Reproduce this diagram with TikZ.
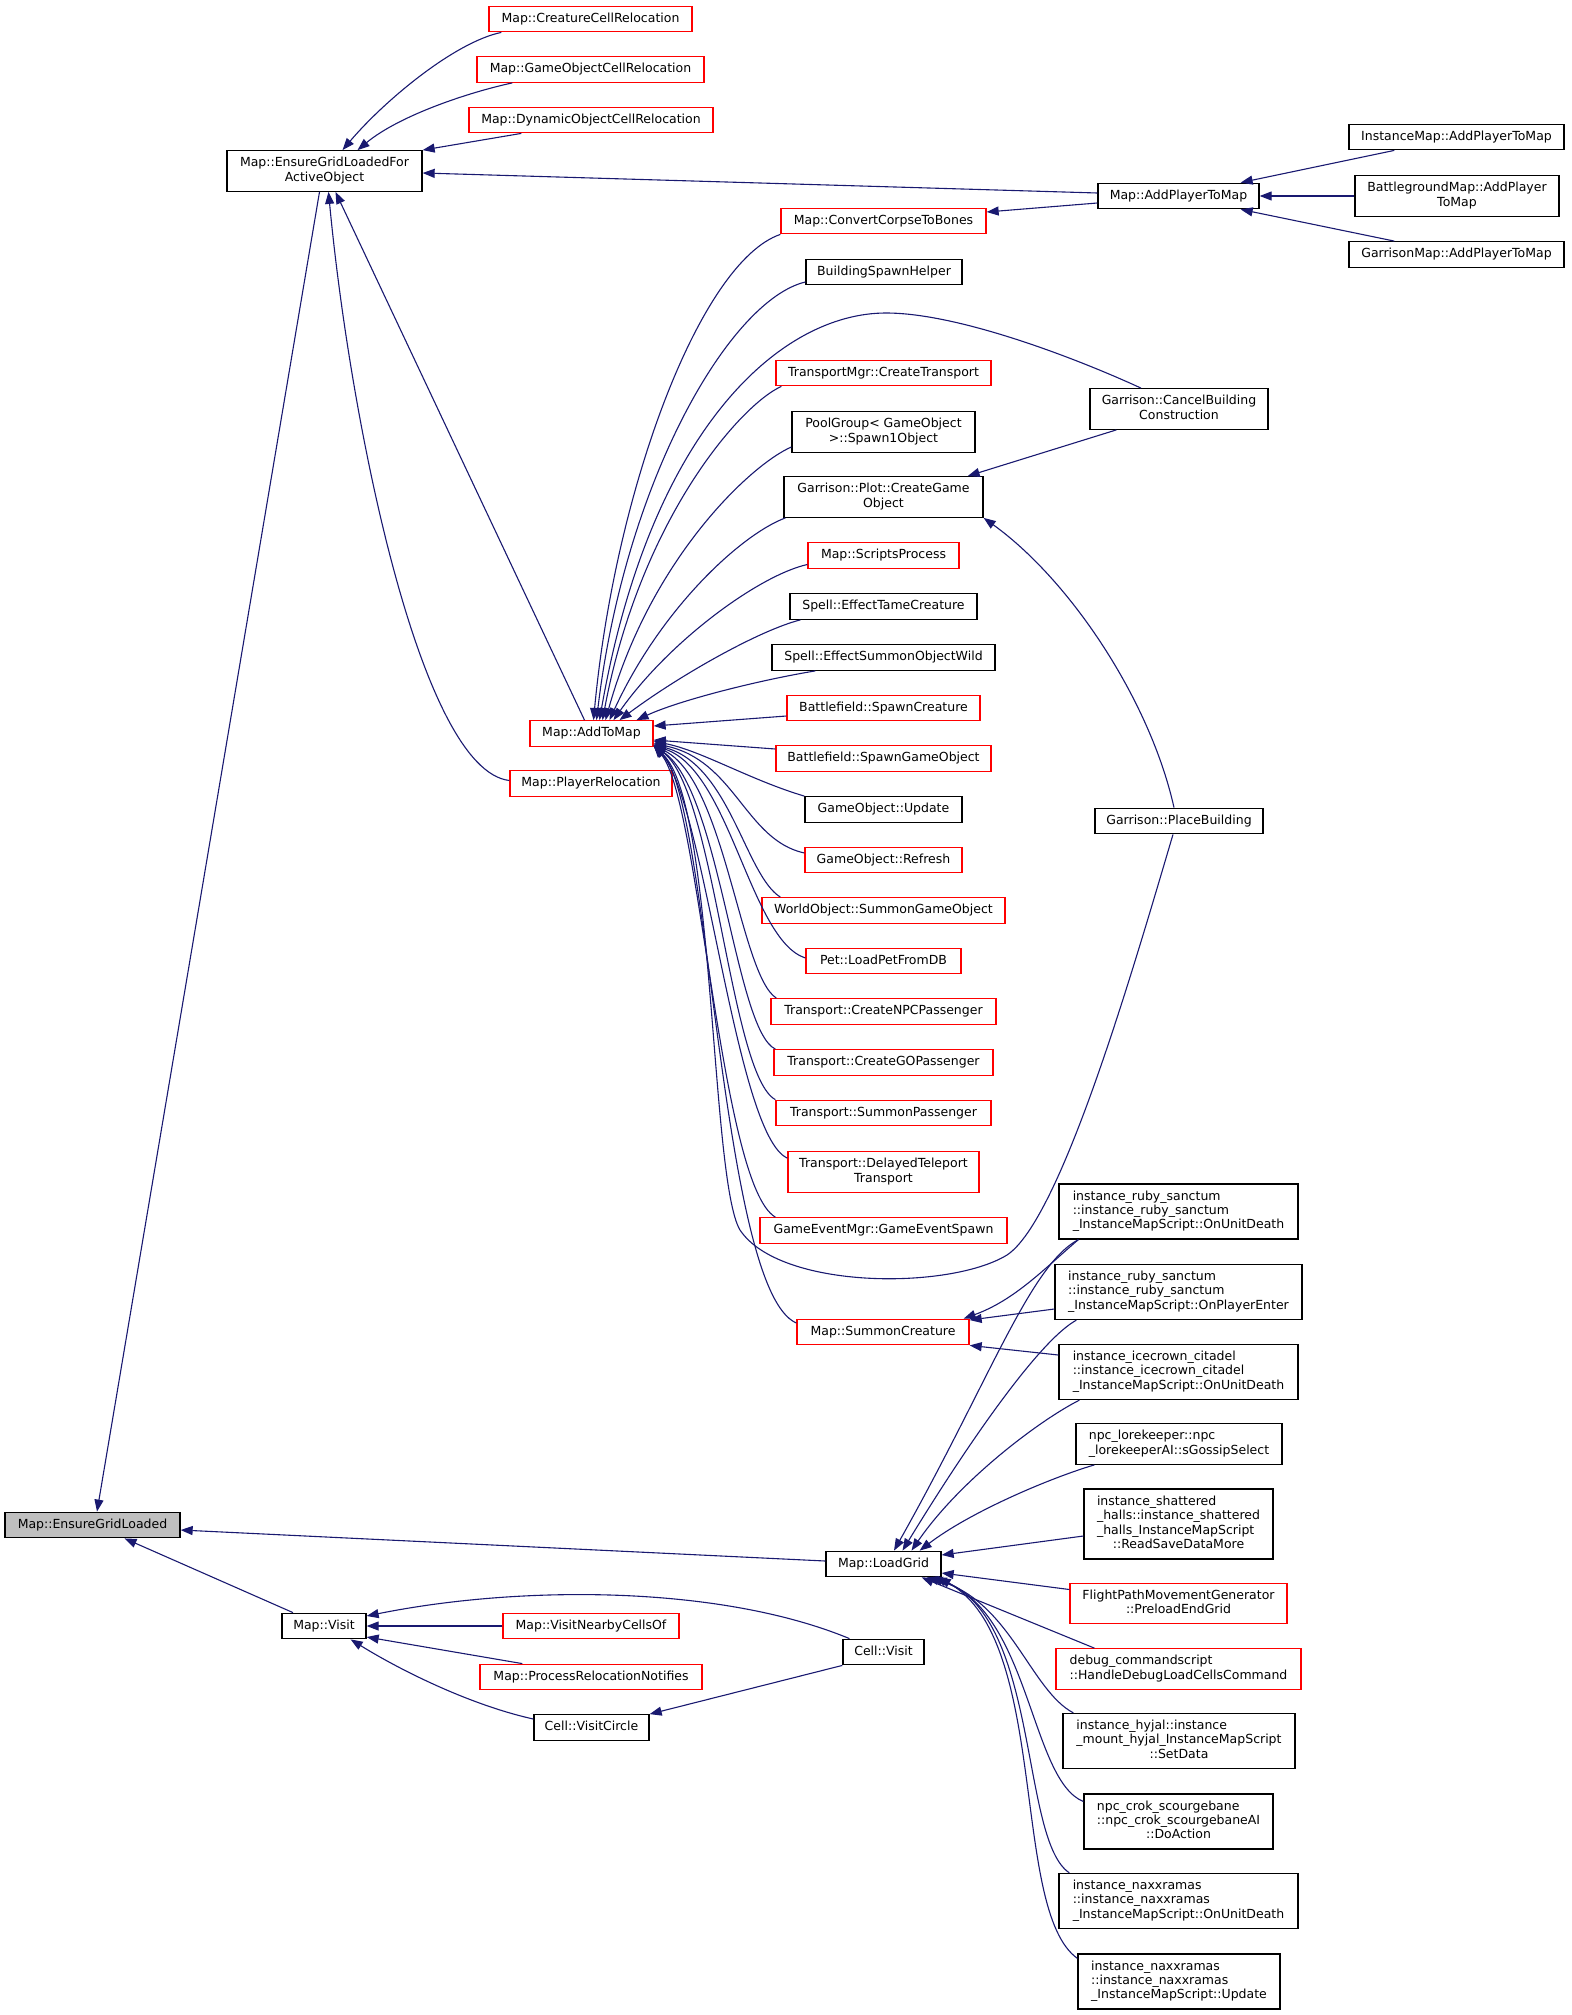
\documentclass[tikz,border=0pt]{standalone}
\usepackage{fontspec}
\setmainfont{DejaVu Sans}
\usetikzlibrary{arrows.meta}
\definecolor{edgeblue}{HTML}{191970}
\definecolor{linkred}{HTML}{FF0000}
\definecolor{curgray}{HTML}{BFBFBF}
\newcommand{\lline}[1]{\multicolumn{1}{@{}l@{}}{#1}}
\newcommand{\lab}[1]{\begin{tabular}{@{}c@{}}#1\end{tabular}}
\begin{document}
\begin{tikzpicture}[x=1pt,y=1pt,
  fn/.style={draw=black,line width=1.3pt,fill=white,inner sep=0pt,
    font=\fontsize{12.5}{14.3}\selectfont,minimum height=25.5pt,
    text height=9.3pt,text depth=2.6pt},
  fnred/.style={fn,draw=linkred},
  fncur/.style={fn,fill=curgray},
  bw/.style={minimum width=#1},
  l2/.style={minimum height=40.5pt,text height={},text depth={}},
  l3/.style={minimum height=55pt,text height={},text depth={}},
  l4/.style={minimum height=70pt,text height={},text depth={}},
  call/.style={draw=edgeblue,line width=1.1pt,-{Triangle[length=12pt,width=9pt]}}]
\useasboundingbox (0,0) rectangle (1571,-2015);
% rank 0 and 1
\node[fncur,bw=175pt] (egl) at (92.5,-1525) {Map::EnsureGridLoaded};
\node[fn,l2,bw=195pt] (eglf) at (324.5,-171) {\lab{\lline{Map::EnsureGridLoadedFor}\\ActiveObject}};
\node[fn,bw=84pt] (mvis) at (324,-1626) {Map::Visit};
% rank 2
\node[fnred,bw=203pt] (ccr) at (590.5,-19) {Map::CreatureCellRelocation};
\node[fnred,bw=227pt] (gocr) at (590.5,-69.5) {Map::GameObjectCellRelocation};
\node[fnred,bw=244pt] (docr) at (591,-120) {Map::DynamicObjectCellRelocation};
\node[fnred,bw=123pt] (atm) at (591.5,-733.5) {Map::AddToMap};
\node[fnred,bw=162pt] (prel) at (591,-783.5) {Map::PlayerRelocation};
\node[fnred,bw=176pt] (vnear) at (591,-1626) {Map::VisitNearbyCellsOf};
\node[fnred,bw=222pt] (prn) at (591,-1677) {Map::ProcessRelocationNotifies};
\node[fn,bw=115pt] (cvc) at (591.5,-1727.5) {Cell::VisitCircle};
% rank 3
\node[fnred,bw=205pt] (cctb) at (883.5,-221) {Map::ConvertCorpseToBones};
\node[fn,bw=156pt] (bsh) at (884,-272) {BuildingSpawnHelper};
\node[fnred,bw=215pt] (tmct) at (883.5,-373) {TransportMgr::CreateTransport};
\node[fn,l2,bw=183pt] (pool) at (883.5,-432) {\lab{\lline{PoolGroup< GameObject}\\>::Spawn1Object}};
\node[fn,l2,bw=199pt] (plot) at (883.5,-497) {\lab{\lline{Garrison::Plot::CreateGame}\\Object}};
\node[fnred,bw=151pt] (sproc) at (883.5,-555.5) {Map::ScriptsProcess};
\node[fn,bw=187pt] (tame) at (883.5,-606.5) {Spell::EffectTameCreature};
\node[fn,bw=223pt] (sow) at (883.5,-657.5) {Spell::EffectSummonObjectWild};
\node[fnred,bw=193pt] (bfsc) at (883.5,-708) {Battlefield::SpawnCreature};
\node[fnred,bw=215pt] (bfgo) at (883.5,-758.5) {Battlefield::SpawnGameObject};
\node[fn,bw=157pt] (goupd) at (883.5,-809.5) {GameObject::Update};
\node[fnred,bw=157pt] (goref) at (883.5,-860) {GameObject::Refresh};
\node[fnred,bw=243pt] (wosgo) at (883.5,-910.5) {WorldObject::SummonGameObject};
\node[fnred,bw=155pt] (pet) at (883.5,-961) {Pet::LoadPetFromDB};
\node[fnred,bw=225pt] (npcp) at (883.5,-1011.5) {Transport::CreateNPCPassenger};
\node[fnred,bw=219pt] (gop) at (883.5,-1062.5) {Transport::CreateGOPassenger};
\node[fnred,bw=215pt] (sump) at (883.5,-1113) {Transport::SummonPassenger};
\node[fnred,l2,bw=191pt] (delay) at (883.5,-1172) {\lab{\lline{Transport::DelayedTeleport}\\Transport}};
\node[fnred,bw=247pt] (gevt) at (883.5,-1230.5) {GameEventMgr::GameEventSpawn};
\node[fnred,bw=172pt] (sumc) at (883,-1332) {Map::SummonCreature};
\node[fn,bw=115pt] (lgrid) at (883.5,-1564) {Map::LoadGrid};
\node[fn,bw=81pt] (cvis) at (883.5,-1652) {Cell::Visit};
% rank 4
\node[fn,bw=161pt] (aptm) at (1178.5,-196) {Map::AddPlayerToMap};
\node[fn,l2,bw=178pt] (cbc) at (1179,-409) {\lab{\lline{Garrison::CancelBuilding}\\Construction}};
\node[fn,bw=168pt] (place) at (1179,-821) {Garrison::PlaceBuilding};
\node[fn,l3,bw=239pt] (rsd) at (1178.5,-1211.5) {\lab{\lline{instance\_ruby\_sanctum}\\\lline{::instance\_ruby\_sanctum}\\\_InstanceMapScript::OnUnitDeath}};
\node[fn,l3,bw=247pt] (rspe) at (1178.5,-1292) {\lab{\lline{instance\_ruby\_sanctum}\\\lline{::instance\_ruby\_sanctum}\\\_InstanceMapScript::OnPlayerEnter}};
\node[fn,l3,bw=239pt] (icc) at (1178.5,-1372) {\lab{\lline{instance\_icecrown\_citadel}\\\lline{::instance\_icecrown\_citadel}\\\_InstanceMapScript::OnUnitDeath}};
\node[fn,l2,bw=206pt] (lore) at (1179,-1444) {\lab{\lline{npc\_lorekeeper::npc}\\\_lorekeeperAI::sGossipSelect}};
\node[fn,l4,bw=189pt] (shat) at (1178.5,-1524) {\lab{\lline{instance\_shattered}\\\lline{\_halls::instance\_shattered}\\\lline{\_halls\_InstanceMapScript}\\::ReadSaveDataMore}};
\node[fnred,l2,bw=217pt] (fpath) at (1178.5,-1603.5) {\lab{\lline{FlightPathMovementGenerator}\\::PreloadEndGrid}};
\node[fnred,l2,bw=245pt] (dbg) at (1178.5,-1669) {\lab{\lline{debug\_commandscript}\\::HandleDebugLoadCellsCommand}};
\node[fn,l3,bw=232pt] (hyjal) at (1179,-1741) {\lab{\lline{instance\_hyjal::instance}\\\lline{\_mount\_hyjal\_InstanceMapScript}\\::SetData}};
\node[fn,l3,bw=189pt] (crok) at (1178.5,-1821.5) {\lab{\lline{npc\_crok\_scourgebane}\\\lline{::npc\_crok\_scourgebaneAI}\\::DoAction}};
\node[fn,l3,bw=239pt] (naxd) at (1178.5,-1901) {\lab{\lline{instance\_naxxramas}\\\lline{::instance\_naxxramas}\\\_InstanceMapScript::OnUnitDeath}};
\node[fn,l3,bw=202pt] (naxu) at (1179,-1981.5) {\lab{\lline{instance\_naxxramas}\\\lline{::instance\_naxxramas}\\\_InstanceMapScript::Update}};
% rank 5
\node[fn,bw=215pt] (imap) at (1456.5,-137) {InstanceMap::AddPlayerToMap};
\node[fn,l2,bw=204pt] (bgmap) at (1457,-196) {\lab{\lline{BattlegroundMap::AddPlayer}\\ToMap}};
\node[fn,bw=215pt] (gmap) at (1456.5,-254.5) {GarrisonMap::AddPlayerToMap};
% callers of EnsureGridLoadedForActiveObject
\draw[call] ([xshift=13pt]ccr.south west) .. controls (455,-42) and (385,-100) .. ([xshift=18pt]eglf.north);
\draw[call] ([xshift=36pt]gocr.south west) .. controls (470,-92) and (400,-115) .. ([xshift=33pt]eglf.north);
\draw[call] ([xshift=53pt]docr.south west) -- (eglf.north east);
\draw[call] ([yshift=3pt]aptm.west) -- ([yshift=-2pt]eglf.east);
\draw[call] ([xshift=-7pt]atm.north) -- ([xshift=11pt]eglf.south);
\draw[call] ([yshift=3pt]prel.west) .. controls (420,-770) and (350,-420) .. ([xshift=4pt]eglf.south);
% callers of EnsureGridLoaded
\draw[call] ([xshift=-5pt]eglf.south) -- ([xshift=4.5pt]egl.north);
\draw[call] ([xshift=-31pt]mvis.north) -- ([xshift=32pt]egl.south);
\draw[call] ([yshift=3pt]lgrid.west) -- ([yshift=-5pt]egl.east);
% AddPlayerToMap
\draw[call] ([xshift=46pt]imap.south west) -- ([xshift=-19pt]aptm.north east);
\draw[call] (bgmap.west) -- (aptm.east);
\draw[call] ([xshift=46pt]gmap.north west) -- ([xshift=-19pt]aptm.south east);
\draw[call] ([yshift=-7pt]aptm.west) -- ([yshift=9pt]cctb.east);
% Plot::CreateGameObject
\draw[call] ([xshift=27pt]cbc.south west) -- ([xshift=-16pt]plot.north east);
\draw[call] ([xshift=-5pt]place.north) .. controls (1150,-700) and (1070,-580) .. (plot.south east);
% callers of AddToMap, from above
\draw[call] (cctb.south west) .. controls (700,-262) and (615,-490) .. ([xshift=2pt]atm.north);
\draw[call] ([yshift=-10pt]bsh.west) .. controls (730,-300) and (625,-480) .. ([xshift=5pt]atm.north);
\draw[call] ([xshift=-38pt]cbc.north) .. controls (1080,-360) and (960,-313) .. (886,-313)
  .. controls (780,-313) and (650,-430) .. ([xshift=8pt]atm.north);
\draw[call] ([xshift=6pt]tmct.south west) .. controls (740,-405) and (640,-520) .. ([xshift=11pt]atm.north);
\draw[call] ([yshift=-15pt]pool.west) .. controls (750,-465) and (650,-560) .. ([xshift=14pt]atm.north);
\draw[call] ([xshift=2pt]plot.south west) .. controls (740,-535) and (660,-610) .. ([xshift=18pt]atm.north);
\draw[call] ([yshift=-9pt]sproc.west) .. controls (760,-575) and (670,-640) .. ([xshift=22pt]atm.north);
\draw[call] ([xshift=11pt]tame.south west) .. controls (760,-630) and (680,-675) .. ([xshift=28pt]atm.north);
\draw[call] ([xshift=44pt]sow.south west) .. controls (760,-680) and (680,-700) .. ([xshift=45pt]atm.north);
% callers of AddToMap, from below
\draw[call] ([yshift=-8pt]bfsc.west) -- ([yshift=7.5pt]atm.east);
\draw[call] ([yshift=9.5pt]bfgo.west) -- ([yshift=-6.5pt]atm.east);
\draw[call] (goupd.north west) .. controls (750,-780) and (700,-750) .. ([yshift=-8pt]atm.east);
\draw[call] ([yshift=7pt]goref.west) .. controls (745,-840) and (735,-760) .. ([yshift=-10pt]atm.east);
\draw[call] ([xshift=19pt]wosgo.north west) .. controls (745,-875) and (730,-765) .. ([yshift=-11pt]atm.east);
\draw[call] ([yshift=3pt]pet.west) .. controls (750,-940) and (730,-770) .. ([yshift=-12pt]atm.east);
\draw[call] ([xshift=6pt]npcp.north west) .. controls (740,-975) and (725,-780) .. ([yshift=-12pt]atm.east);
\draw[call] ([xshift=2pt]gop.north west) .. controls (735,-1030) and (720,-790) .. ([yshift=-12pt]atm.east);
\draw[call] (sump.north west) .. controls (730,-1075) and (715,-790) .. ([yshift=-12pt]atm.east);
\draw[call] ([yshift=-7pt]delay.north west) .. controls (735,-1135) and (705,-800) .. ([yshift=-12pt]atm.east);
\draw[call] ([xshift=16pt]gevt.north west) .. controls (720,-1185) and (700,-800) .. ([yshift=-12pt]atm.east);
\draw[call] ([xshift=-6pt]place.south) .. controls (1130,-980) and (1060,-1220) .. (1007,-1255)
  .. controls (950,-1290) and (780,-1290) .. (740,-1230)
  .. controls (710,-1180) and (715,-800) .. ([yshift=-13pt]atm.east);
\draw[call] ([yshift=9pt]sumc.west) .. controls (720,-1290) and (710,-800) .. ([yshift=-12pt]atm.east);
% Map::Visit
\draw[call] ([xshift=-34pt]cvis.north) .. controls (720,-1585) and (520,-1585) .. ([yshift=10pt]mvis.east);
\draw[call] (vnear.west) -- (mvis.east);
\draw[call] ([xshift=43pt]prn.north west) -- ([yshift=-11pt]mvis.east);
\draw[call] ([yshift=8.5pt]cvc.west) .. controls (470,-1705) and (400,-1670) .. ([xshift=-16pt]mvis.south east);
\draw[call] (cvis.south west) -- (cvc.north east);
% Map::SummonCreature
\draw[call] ([xshift=20pt]rsd.south west) .. controls (1045,-1268) and (1015,-1300) .. ([xshift=-6pt]sumc.north east);
\draw[call] ([yshift=-17pt]rspe.west) -- ([yshift=12pt]sumc.east);
\draw[call] ([yshift=17pt]icc.west) -- (sumc.south east);
% Map::LoadGrid
\draw[call] ([xshift=20pt]rsd.south west) .. controls (1030,-1265) and (990,-1380) .. ([xshift=10.5pt]lgrid.north);
\draw[call] ([xshift=22pt]rspe.south west) .. controls (1040,-1340) and (970,-1440) .. ([xshift=19pt]lgrid.north);
\draw[call] ([xshift=21pt]icc.south west) .. controls (1040,-1420) and (960,-1480) .. ([xshift=28pt]lgrid.north);
\draw[call] ([xshift=19pt]lore.south west) .. controls (1050,-1478) and (970,-1512) .. ([xshift=-22pt]lgrid.north east);
\draw[call] ([yshift=-12pt]shat.west) -- ([yshift=9pt]lgrid.east);
\draw[call] ([yshift=14pt]fpath.west) -- ([yshift=-9pt]lgrid.east);
\draw[call] ([xshift=39pt]dbg.north west) -- ([xshift=-20pt]lgrid.south east);
\draw[call] ([xshift=11pt]hyjal.north west) .. controls (1030,-1690) and (1010,-1600) .. ([xshift=-15pt]lgrid.south east);
\draw[call] ([yshift=20pt]crok.west) .. controls (1030,-1780) and (1030,-1610) .. ([xshift=-11pt]lgrid.south east);
\draw[call] ([xshift=11pt]naxd.north west) .. controls (1020,-1840) and (1040,-1620) .. ([xshift=-7pt]lgrid.south east);
\draw[call] ([yshift=-5pt]naxu.north west) .. controls (1010,-1910) and (1050,-1640) .. ([xshift=-3pt]lgrid.south east);
\end{tikzpicture}
\end{document}
